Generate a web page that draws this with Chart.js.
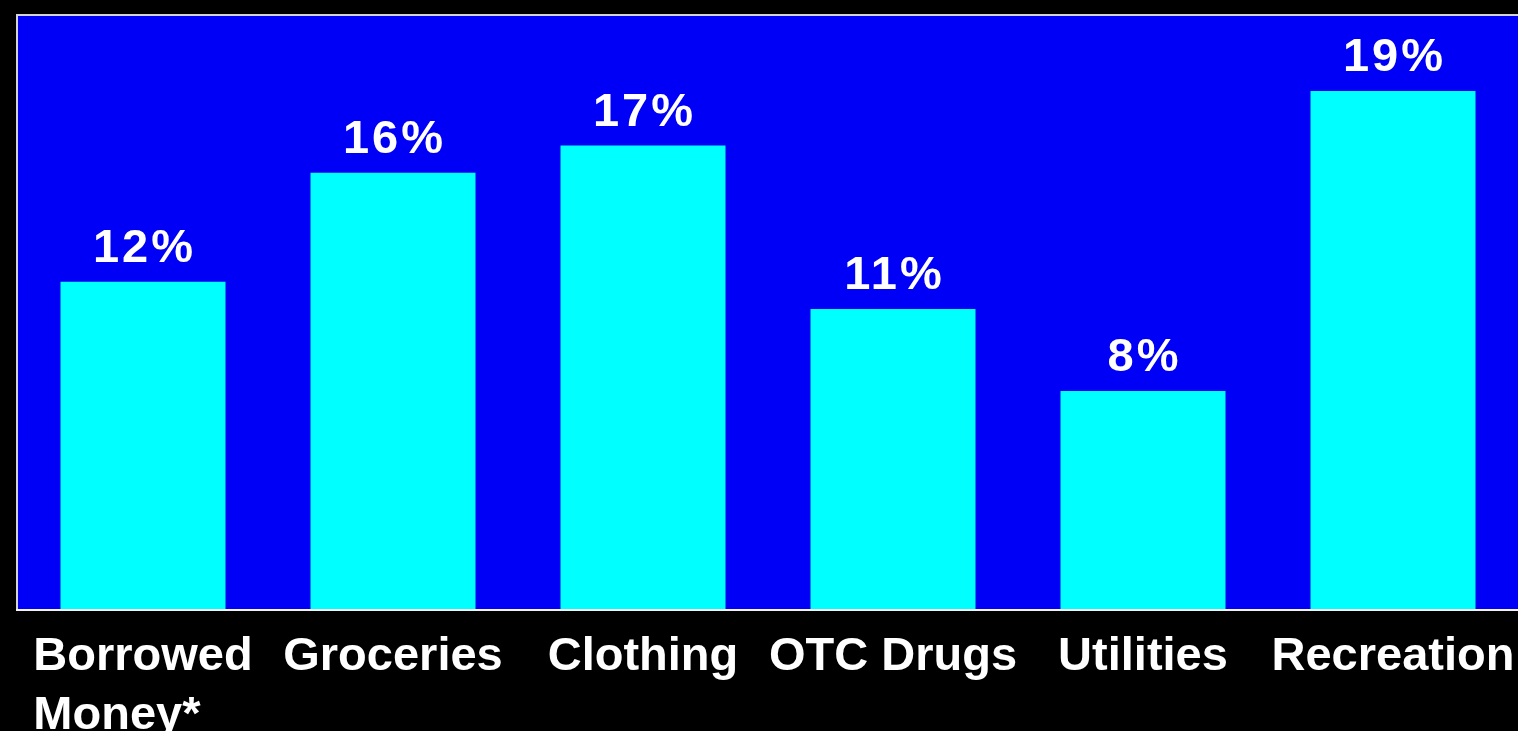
<!DOCTYPE html>
<html>
<head>
<meta charset="utf-8">
<title>Spending by category</title>
<script src="https://cdn.jsdelivr.net/npm/chart.js@4.4.1/dist/chart.umd.min.js"></script>
<style>
  html, body { margin: 0; padding: 0; background: #000; }
  #wrap { position: relative; width: 1518px; height: 731px; }
</style>
</head>
<body>
<div id="wrap"><canvas id="c"></canvas></div>
<script>
// Category labels (multi-line entries are split into lines)
const categories = [['Borrowed', 'Money*'], 'Groceries', 'Clothing', 'OTC Drugs', 'Utilities', 'Recreation'];
// Share of spending, percent
const shares = [12, 16, 17, 11, 8, 19];
// Value axis range
const yMin = 0;
const yMax = 21.75;

const FONT = 'bold 47px "Liberation Sans", Arial, sans-serif';

// Blue plot panel with its frame
const panelPlugin = {
  id: 'panel',
  beforeDraw(chart) {
    const { ctx, chartArea: a } = chart;
    ctx.save();
    ctx.fillStyle = '#0000f6';
    ctx.fillRect(a.left, a.top, a.right - a.left, a.bottom - a.top);
    ctx.lineWidth = 2;
    ctx.strokeStyle = '#d4d4d4';
    ctx.beginPath();
    ctx.moveTo(a.left - 1, a.bottom);
    ctx.lineTo(a.left - 1, a.top - 1);
    ctx.lineTo(a.right, a.top - 1);
    ctx.stroke();
    ctx.strokeStyle = '#f4f4f4';
    ctx.beginPath();
    ctx.moveTo(a.left - 2, a.bottom + 1);
    ctx.lineTo(a.right, a.bottom + 1);
    ctx.stroke();
    ctx.restore();
  }
};

// Percent labels above bars and category names below the panel
const labelPlugin = {
  id: 'labels',
  afterDatasetsDraw(chart) {
    const { ctx } = chart;
    const meta = chart.getDatasetMeta(0);
    const xs = chart.scales.x;
    ctx.save();
    ctx.font = FONT;
    ctx.fillStyle = '#ffffff';
    ctx.textBaseline = 'alphabetic';

    ctx.textAlign = 'center';
    ctx.letterSpacing = '3px';
    meta.data.forEach((bar, i) => {
      const v = chart.data.datasets[0].data[i];
      ctx.fillText(v + '%', bar.x + 1.5, bar.y - 20);
    });

    ctx.letterSpacing = '0px';
    ctx.textAlign = 'left';
    categories.forEach((lab, i) => {
      const lines = Array.isArray(lab) ? lab : [lab];
      const cx = xs.getPixelForValue(i);
      const w = ctx.measureText(lines[0]).width;
      const left = cx - w / 2;
      lines.forEach((ln, k) => {
        ctx.fillText(ln, left, 670 + k * 59);
      });
    });
    ctx.restore();
  }
};

new Chart(document.getElementById('c'), {
  type: 'bar',
  data: {
    labels: categories,
    datasets: [{
      data: shares,
      backgroundColor: '#00ffff',
      borderWidth: 0,
      barPercentage: 0.66,
      categoryPercentage: 1.0
    }]
  },
  options: {
    responsive: true,
    maintainAspectRatio: false,
    animation: false,
    layout: { padding: { left: 18, top: 16, right: 0, bottom: 122 } },
    plugins: {
      legend: { display: false },
      tooltip: { enabled: false },
      title: { display: false }
    },
    scales: {
      x: { display: false },
      y: { display: false, min: yMin, max: yMax }
    }
  },
  plugins: [panelPlugin, labelPlugin]
});
</script>
</body>
</html>
